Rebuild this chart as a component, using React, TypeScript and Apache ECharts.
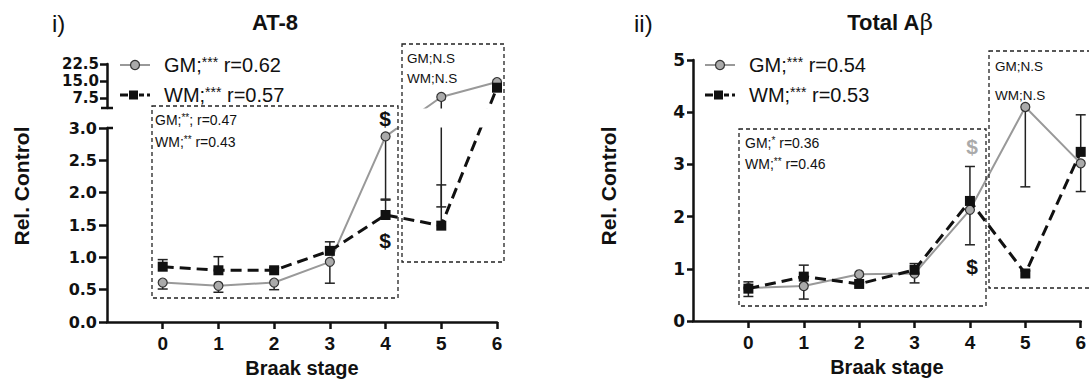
import React, { useEffect, useRef } from "react";
import * as echarts from "echarts";

// ---------- data ----------
const stages = [0, 1, 2, 3, 4, 5, 6];

// AT-8 (panel i)
const at8GM = [0.61, 0.56, 0.61, 0.93, 2.87, 7.9, 14.5];
const at8GMErr = [0.1, 0.1, 0.11, 0.33, 0.97, 6.12, 0.3]; // drawn downward
const at8WM = [0.855, 0.8, 0.8, 1.1, 1.655, 1.49, 12.0];
const at8WMErr = [0.11, 0.21, 0.04, 0.14, 0.23, 0.63, 0.4]; // drawn upward
const at8LowerTicks = [0, 0.5, 1, 1.5, 2, 2.5, 3];
const at8UpperTicks = [7.5, 15, 22.5];

// Total Abeta (panel ii)
const abGM = [0.63, 0.67, 0.895, 0.91, 2.13, 4.1, 3.02];
const abGMErr = [0.16, 0.25, 0.03, 0.18, 0.67, 1.53, 0.54];
const abWM = [0.62, 0.85, 0.71, 0.98, 2.3, 0.91, 3.24];
const abWMErr = [0.13, 0.22, 0.03, 0.12, 0.66, 0.05, 0.71];
const abTicks = [0, 1, 2, 3, 4, 5];

// ---------- layout ----------
const FONT = "'Liberation Sans', Arial, sans-serif";
const TICKFONT = "'DejaVu Sans', sans-serif";
const L_X = 107, L_W = 390, L_TOP = 64;
const LOW_MAX = 3, UP_MAX = 22.5;
const LOW_H = 194, GAP_H = 20, UP_H = 44;
const LOW_TOP = L_TOP + UP_H + GAP_H;
const R_X = 693, R_W = 392, R_TOP = 60, R_H = 261;

const pxPerUnit = LOW_H / LOW_MAX;
const brk = (v: number) =>
  v <= LOW_MAX ? v : LOW_MAX + (GAP_H + ((v - LOW_MAX) / (UP_MAX - LOW_MAX)) * UP_H) / pxPerUnit;
const BRK_MAX = brk(UP_MAX);

const lineStyle = { color: "#111", width: 2.5 };

function xAxisShown(grid: number) {
  return {
    gridIndex: grid,
    type: "value",
    min: -1,
    max: 6,
    axisLine: { show: true, onZero: false, lineStyle },
    axisTick: { show: true, length: 7, lineStyle, customValues: stages },
    axisLabel: {
      customValues: stages,
      margin: 12,
      color: "#111",
      fontFamily: FONT,
      fontWeight: "bold",
      fontSize: 19,
    },
    splitLine: { show: false },
    name: "Braak stage",
    nameLocation: "middle",
    nameGap: 36,
    nameTextStyle: { color: "#111", fontFamily: FONT, fontWeight: "bold", fontSize: 20 },
  };
}
function xAxisHidden(grid: number) {
  return { gridIndex: grid, type: "value", min: -1, max: 6, show: false };
}

function errSeries(xi: number, vals: number[], errs: number[], up: boolean, tf: (v: number) => number) {
  return {
    type: "custom",
    xAxisIndex: xi,
    yAxisIndex: xi,
    z: 1,
    clip: false,
    encode: { x: 0, y: [1, 2] },
    data: stages.map((s, i) =>
      up ? [s, tf(vals[i]), tf(vals[i] + errs[i]), 1] : [s, tf(vals[i] - errs[i]), tf(vals[i]), 0]
    ),
    renderItem: (params: any, api: any) => {
      const x = api.value(0);
      const p1 = api.coord([x, api.value(1)]);
      const p2 = api.coord([x, api.value(2)]);
      const capY = api.value(3) ? p2[1] : p1[1];
      const st = { stroke: "#222", lineWidth: 1.5 };
      return {
        type: "group",
        children: [
          { type: "line", shape: { x1: p1[0], y1: p1[1], x2: p2[0], y2: p2[1] }, style: st },
          { type: "line", shape: { x1: p1[0] - 5, y1: capY, x2: p1[0] + 5, y2: capY }, style: st },
        ],
      };
    },
  };
}

function gmLine(xi: number, vals: number[], tf: (v: number) => number) {
  return {
    type: "line",
    xAxisIndex: xi,
    yAxisIndex: xi,
    z: 2,
    data: stages.map((s, i) => [s, tf(vals[i])]),
    symbol: "circle",
    symbolSize: 9,
    itemStyle: { color: "#aaa", borderColor: "#333", borderWidth: 1.2 },
    lineStyle: { color: "#999", width: 2 },
  };
}
function wmLine(xi: number, vals: number[], tf: (v: number) => number) {
  return {
    type: "line",
    xAxisIndex: xi,
    yAxisIndex: xi,
    z: 3,
    data: stages.map((s, i) => [s, tf(vals[i])]),
    symbol: "rect",
    symbolSize: 10,
    itemStyle: { color: "#111" },
    lineStyle: { color: "#111", width: 3, type: [11, 6] },
  };
}

const sup = (size: number, pad: number) => ({ fontSize: size, fill: "#111", fontFamily: FONT, padding: [0, 0, pad, 0] });

function txt(x: number, y: number, text: string, o: any = {}) {
  return {
    type: "text",
    x,
    y,
    z: 30,
    rotation: o.rotation || 0,
    style: {
      text,
      fill: o.fill || "#111",
      fontFamily: o.fontFamily || FONT,
      fontSize: o.fontSize || 14,
      fontWeight: o.fontWeight || "normal",
      align: o.align || "left",
      verticalAlign: "middle",
      rich: o.rich,
    },
  };
}

function dashedBox(x: number, y: number, w: number, h: number) {
  return {
    type: "rect",
    z: 25,
    shape: { x, y, width: w, height: h },
    style: { fill: "none", stroke: "#222", lineWidth: 1.3, lineDash: [4, 3] },
  };
}

function legend(x0: number, y1: number, y2: number, gmText: string, wmText: string) {
  const blk = { stroke: "#111", lineWidth: 3 };
  const rich = { s: sup(14, 7) };
  return [
    { type: "line", z: 25, shape: { x1: x0, y1, x2: x0 + 30, y2: y1 }, style: { stroke: "#999", lineWidth: 2 } },
    { type: "circle", z: 26, shape: { cx: x0 + 15, cy: y1, r: 4.5 }, style: { fill: "#aaa", stroke: "#333", lineWidth: 1.2 } },
    txt(x0 + 44, y1, gmText, { fontSize: 20, rich }),
    { type: "line", z: 25, shape: { x1: x0, y1: y2, x2: x0 + 8, y2 }, style: blk },
    { type: "rect", z: 26, shape: { x: x0 + 9, y: y2 - 4.5, width: 9, height: 9 }, style: { fill: "#111" } },
    { type: "line", z: 25, shape: { x1: x0 + 19, y1: y2, x2: x0 + 24, y2 }, style: blk },
    { type: "line", z: 25, shape: { x1: x0 + 27, y1: y2, x2: x0 + 30, y2 }, style: blk },
    txt(x0 + 44, y2, wmText, { fontSize: 20, rich }),
  ];
}

function buildOption() {
  const smallRich = { s: sup(10, 5) };
  const graphic: any[] = [
    // gap of the broken axis
    { type: "rect", z: 10, shape: { x: L_X + 2, y: L_TOP + UP_H + 0.5, width: L_W + 4, height: GAP_H - 1 }, style: { fill: "#fff" } },
    { type: "line", z: 25, shape: { x1: L_X - 6, y1: L_TOP + UP_H, x2: L_X + 6, y2: L_TOP + UP_H }, style: { stroke: "#111", lineWidth: 2.5 } },
    { type: "line", z: 25, shape: { x1: L_X, y1: LOW_TOP, x2: L_X + 6, y2: LOW_TOP }, style: { stroke: "#111", lineWidth: 2.5 } },

    // panel i
    txt(52, 23, "i)", { fontSize: 24 }),
    txt(275, 22, "AT-8", { fontSize: 22, fontWeight: "bold", align: "center" }),
    txt(21, 186, "Rel. Control", { fontSize: 21, fontWeight: "bold", align: "center", rotation: Math.PI / 2 }),
    ...legend(120, 65, 95, "GM;{s|***} r=0.62", "WM;{s|***} r=0.57"),
    dashedBox(152, 106, 246, 192),
    txt(155, 120, "GM;{s|**}; r=0.47", { fontSize: 14, rich: smallRich }),
    txt(155, 142, "WM;{s|**} r=0.43", { fontSize: 14, rich: smallRich }),
    dashedBox(402, 44, 102, 218),
    txt(407, 58, "GM;N.S", { fontSize: 13.5 }),
    txt(407, 78, "WM;N.S", { fontSize: 13.5 }),
    txt(385, 118, "$", { fontSize: 21, fontWeight: "bold", align: "center" }),
    txt(385, 240, "$", { fontSize: 21, fontWeight: "bold", align: "center" }),

    // panel ii
    txt(634, 23, "ii)", { fontSize: 24 }),
    txt(890, 22, "Total A{b|β}", {
      fontSize: 22,
      fontWeight: "bold",
      align: "center",
      rich: { b: { fontSize: 23, fontFamily: "'DejaVu Serif', serif", fontWeight: "normal", fill: "#111" } },
    }),
    txt(608, 186, "Rel. Control", { fontSize: 21, fontWeight: "bold", align: "center", rotation: Math.PI / 2 }),
    ...legend(705, 65, 95, "GM;{s|***} r=0.54", "WM;{s|***} r=0.53"),
    dashedBox(739, 129, 247, 177),
    txt(745, 143, "GM;{s|*} r=0.36", { fontSize: 14, rich: smallRich }),
    txt(745, 164, "WM;{s|**} r=0.46", { fontSize: 14, rich: smallRich }),
    dashedBox(989, 51, 110, 237),
    txt(995, 66, "GM;N.S", { fontSize: 13.5 }),
    txt(995, 95, "WM;N.S", { fontSize: 13.5 }),
    txt(972, 146, "$", { fontSize: 21, fontWeight: "bold", align: "center", fill: "#aaa" }),
    txt(972, 266, "$", { fontSize: 21, fontWeight: "bold", align: "center" }),
  ];

  const yLabel = (margin: number, size: number, fmt: (v: number) => string) => ({
    margin,
    color: "#111",
    fontFamily: TICKFONT,
    fontWeight: "bold",
    fontSize: size,
    formatter: fmt,
  });

  return {
    animation: false,
    backgroundColor: "#fff",
    grid: [
      { left: L_X, top: LOW_TOP, width: L_W, height: LOW_H },
      { left: L_X, top: L_TOP, width: L_W, height: UP_H },
      { left: L_X, top: L_TOP, width: L_W, height: LOW_H + GAP_H + UP_H },
      { left: R_X, top: R_TOP, width: R_W, height: R_H },
    ],
    xAxis: [xAxisShown(0), xAxisHidden(1), xAxisHidden(2), xAxisShown(3)],
    yAxis: [
      {
        gridIndex: 0,
        type: "value",
        min: 0,
        max: LOW_MAX,
        interval: 0.5,
        axisLine: { show: true, onZero: false, lineStyle },
        axisTick: { show: true, length: 8, lineStyle, customValues: at8LowerTicks },
        axisLabel: { ...yLabel(10, 16, (v: number) => v.toFixed(1)), customValues: at8LowerTicks },
        splitLine: { show: false },
      },
      {
        gridIndex: 1,
        type: "value",
        min: LOW_MAX,
        max: UP_MAX,
        axisLine: { show: true, onZero: false, lineStyle },
        axisTick: { show: true, length: 7, lineStyle, customValues: at8UpperTicks },
        axisLabel: { ...yLabel(8, 15, (v: number) => v.toFixed(1)), customValues: at8UpperTicks },
        splitLine: { show: false },
      },
      { gridIndex: 2, type: "value", min: 0, max: BRK_MAX, show: false },
      {
        gridIndex: 3,
        type: "value",
        min: 0,
        max: 5,
        interval: 1,
        axisLine: { show: true, onZero: false, lineStyle },
        axisTick: { show: true, length: 6, lineStyle, customValues: abTicks },
        axisLabel: { ...yLabel(8, 17, (v: number) => String(v)), customValues: abTicks },
        splitLine: { show: false },
      },
    ],
    series: [
      errSeries(2, at8GM, at8GMErr, false, brk),
      errSeries(2, at8WM, at8WMErr, true, brk),
      gmLine(2, at8GM, brk),
      wmLine(2, at8WM, brk),
      errSeries(3, abGM, abGMErr, false, (v) => v),
      errSeries(3, abWM, abWMErr, true, (v) => v),
      gmLine(3, abGM, (v) => v),
      wmLine(3, abWM, (v) => v),
    ],
    graphic,
  };
}

export default function App() {
  const ref = useRef<HTMLDivElement>(null);
  useEffect(() => {
    const chart = echarts.init(ref.current as HTMLDivElement, null, { renderer: "svg" });
    chart.setOption(buildOption() as any);
    return () => chart.dispose();
  }, []);
  return (
    <div
      ref={ref}
      style={{ position: "absolute", left: 0, top: 0, width: 1089, height: 387, background: "#fff" }}
    />
  );
}
